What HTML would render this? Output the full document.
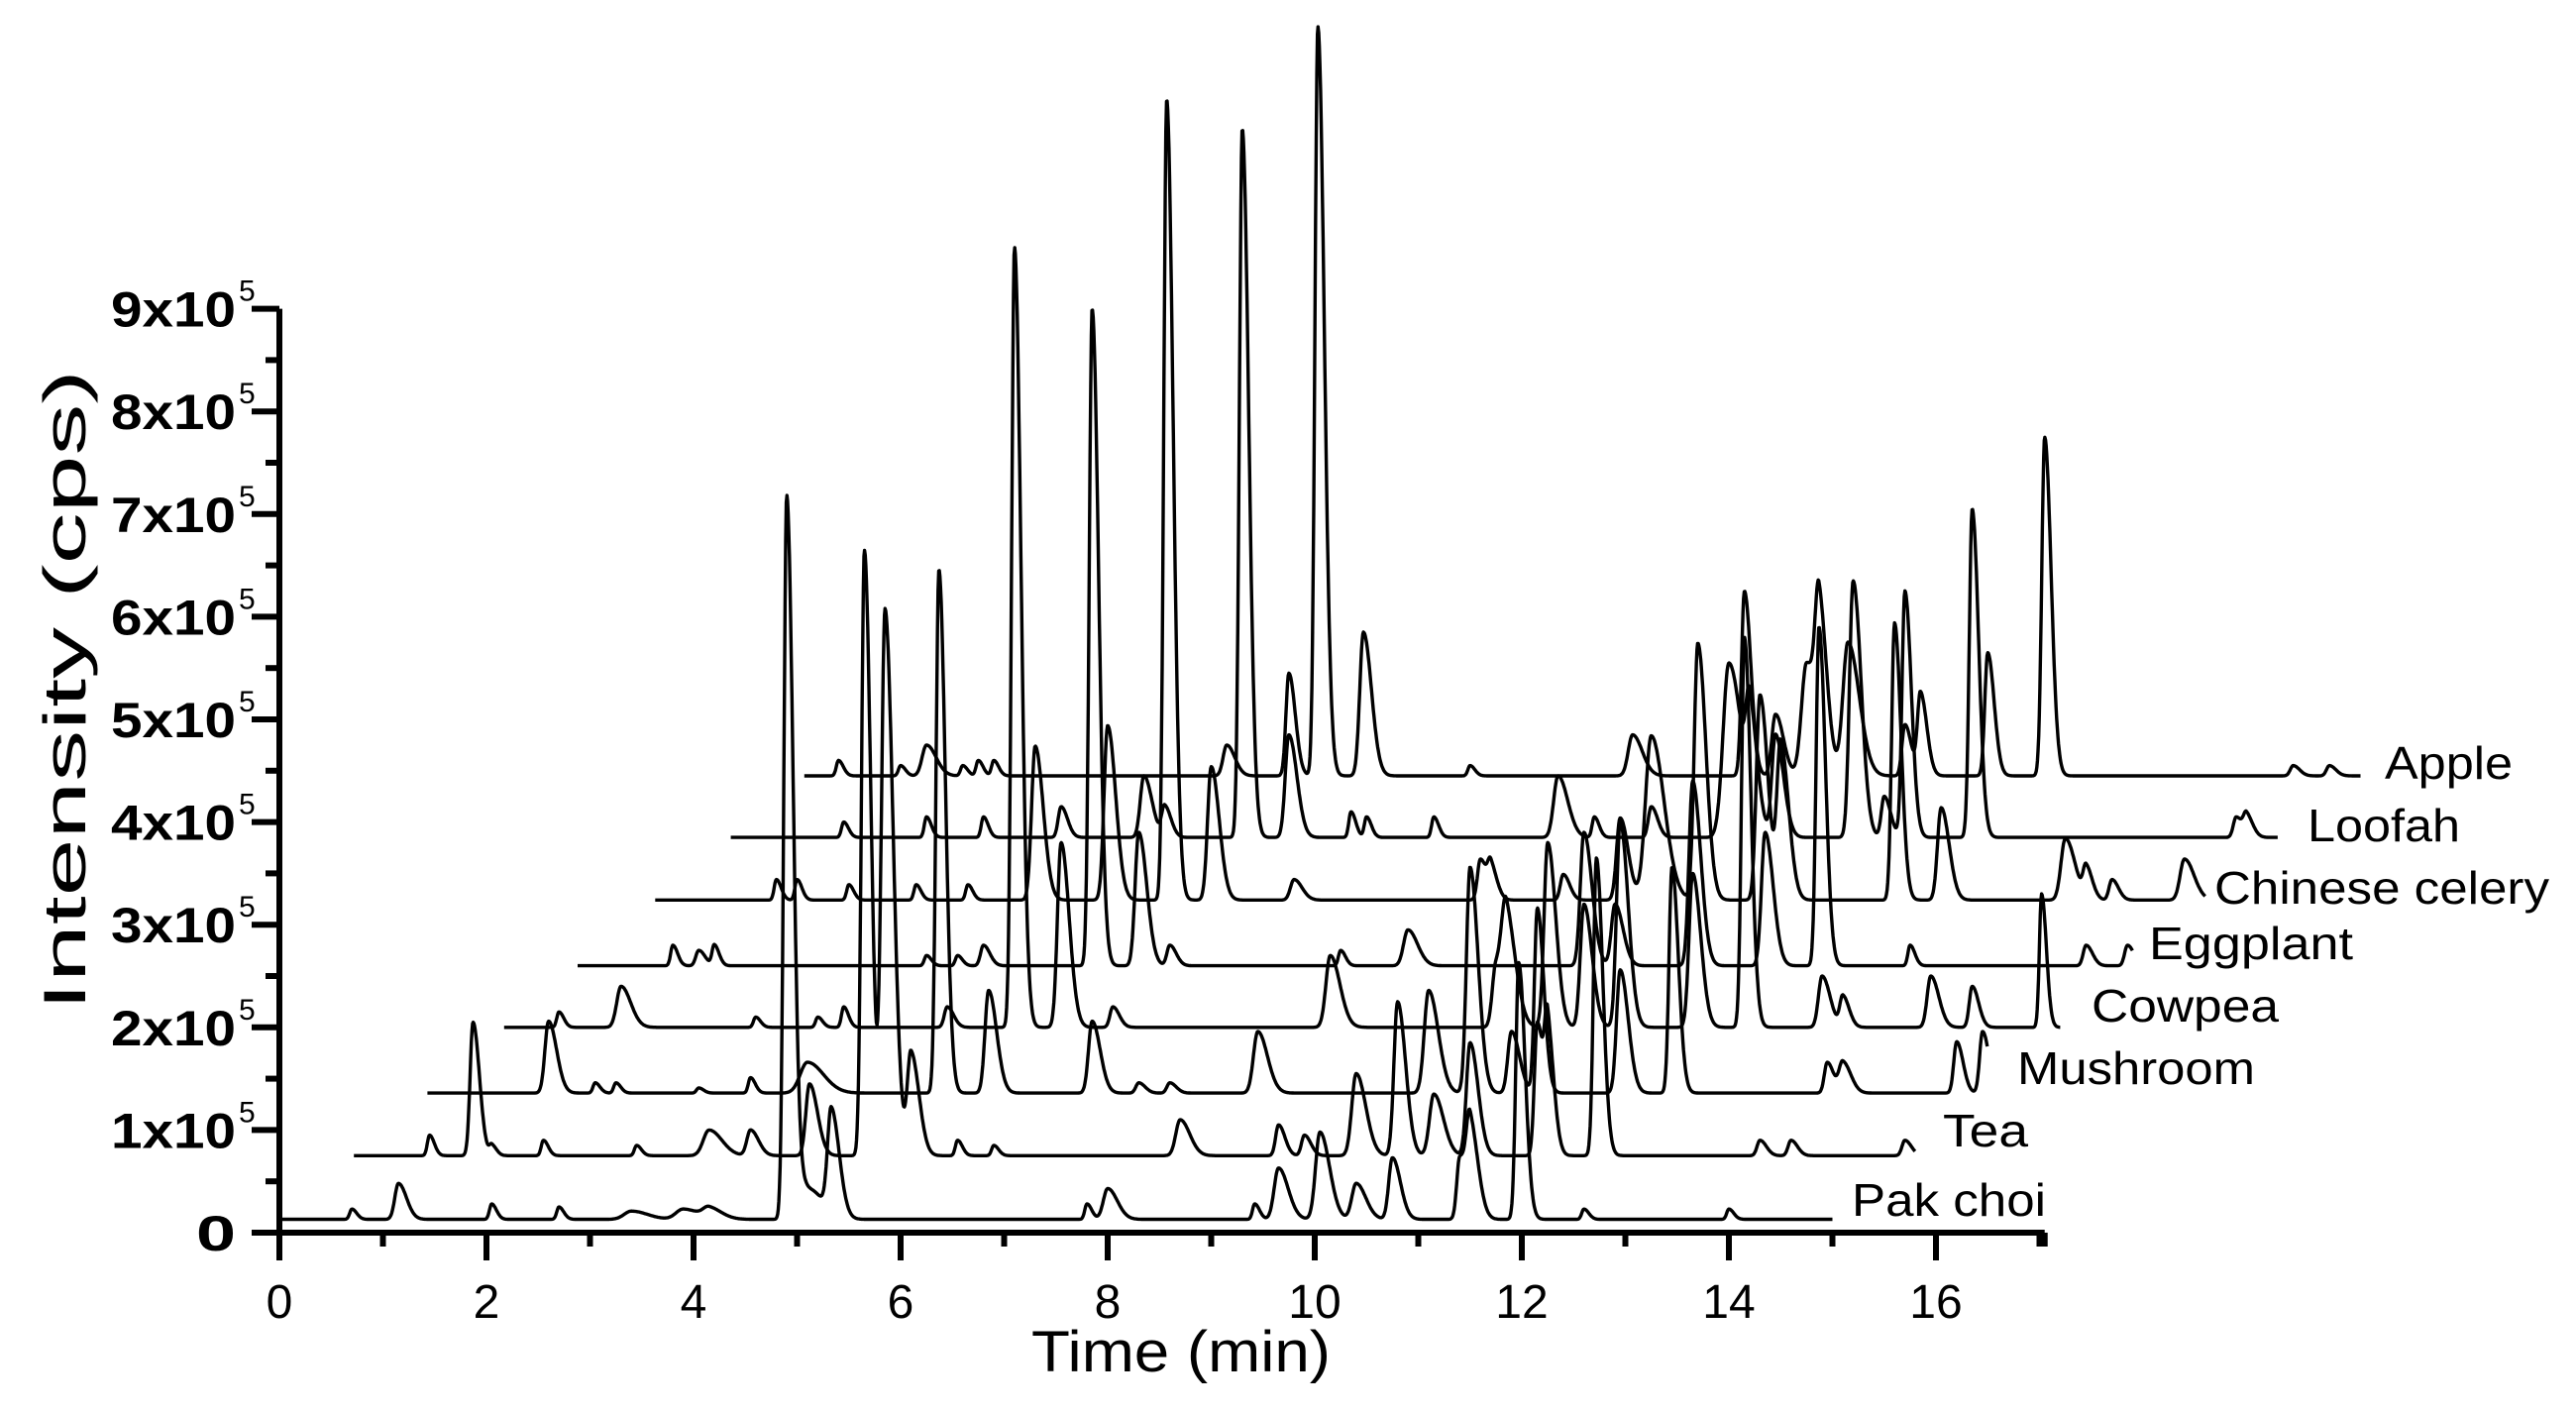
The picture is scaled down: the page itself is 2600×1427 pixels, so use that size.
<!DOCTYPE html>
<html><head><meta charset="utf-8"><style>
html,body{margin:0;padding:0;background:#fff;}
svg{display:block;}
text{font-family:"Liberation Sans",sans-serif;fill:#000;}
</style></head><body>
<svg id="chart" width="2600" height="1427" viewBox="0 0 2600 1427" xmlns="http://www.w3.org/2000/svg">
<g id="plot"></g>
<g id="axes"></g>
</svg>
<script>
// ---- data ----
const seriesNames = ["Pak choi","Tea","Mushroom","Cowpea","Eggplant","Chinese celery","Loofah","Apple"];
const seriesStart = [0, 0.72, 1.43, 2.17, 2.88, 3.63, 4.36, 5.07];
const seriesEnd = [15.0, 15.8, 16.5, 17.2, 17.9, 18.6, 19.3, 20.1];
const seriesBase = [0.13, 0.75, 1.36, 2.0, 2.6, 3.24, 3.85, 4.45];
// peaks: [time(min), height above baseline (x1e5), width(min)]
const peaksPakChoi = [[0.7,0.1,0.03],[1.15,0.35,0.05],[2.05,0.15,0.03],[2.7,0.12,0.03],[3.4,0.08,0.1],[3.9,0.1,0.1],[4.15,0.1,0.08],[5.1,0.3,0.1],[4.9,7.05,0.04],[5.33,1.0,0.05],[7.8,0.15,0.03],[8.0,0.3,0.06],[9.42,0.15,0.03],[9.65,0.5,0.06],[10.05,0.85,0.06],[10.4,0.35,0.06],[10.75,0.6,0.05],[11.4,0.6,0.04],[11.5,0.9,0.05],[11.97,2.5,0.04],[12.6,0.1,0.03],[14.0,0.1,0.03]];
const peaksTea = [[1.45,0.2,0.03],[1.87,1.3,0.04],[2.05,0.1,0.03],[2.55,0.15,0.03],[3.45,0.1,0.03],[4.15,0.25,0.08],[4.55,0.25,0.05],[5.12,0.7,0.05],[5.65,5.9,0.04],[5.85,5.3,0.05],[6.1,1.0,0.05],[6.55,0.15,0.03],[6.9,0.1,0.03],[8.7,0.35,0.06],[9.65,0.3,0.04],[9.9,0.2,0.04],[10.4,0.8,0.06],[10.8,1.5,0.05],[11.15,0.6,0.06],[11.5,1.1,0.05],[12.15,1.3,0.04],[12.25,1.1,0.04],[12.72,2.9,0.04],[14.3,0.15,0.04],[14.6,0.15,0.04],[15.7,0.15,0.04]];
const peaksMushroom = [[2.6,0.7,0.05],[3.05,0.1,0.03],[3.25,0.1,0.03],[4.05,0.05,0.03],[4.55,0.15,0.03],[5.1,0.3,0.1],[6.37,5.1,0.04],[6.85,1.0,0.05],[7.85,0.7,0.05],[8.3,0.1,0.04],[8.6,0.1,0.04],[9.45,0.6,0.06],[11.1,1.0,0.06],[11.5,2.2,0.05],[11.9,0.6,0.05],[12.15,1.8,0.04],[12.95,1.2,0.05],[13.45,2.2,0.04],[14.95,0.3,0.04],[15.1,0.3,0.05],[16.2,0.5,0.04],[16.45,0.6,0.04]];
const peaksCowpea = [[2.7,0.15,0.03],[3.3,0.4,0.06],[4.6,0.1,0.03],[5.2,0.1,0.03],[5.45,0.2,0.03],[6.45,0.2,0.04],[7.1,7.6,0.04],[7.55,1.8,0.05],[8.05,0.2,0.04],[10.15,0.7,0.06],[11.75,0.6,0.05],[11.85,1.0,0.06],[12.25,1.8,0.05],[12.6,1.2,0.05],[12.95,2.0,0.05],[13.65,1.5,0.05],[14.15,3.8,0.04],[14.9,0.5,0.05],[15.1,0.3,0.04],[15.95,0.5,0.05],[16.35,0.4,0.04],[17.02,1.3,0.03]];
const peaksEggplant = [[3.8,0.2,0.03],[4.05,0.15,0.04],[4.2,0.2,0.03],[6.25,0.1,0.03],[6.55,0.1,0.03],[6.8,0.2,0.04],[7.85,6.4,0.04],[8.3,1.3,0.05],[8.6,0.2,0.04],[10.25,0.15,0.03],[10.9,0.35,0.06],[12.6,1.3,0.05],[12.9,0.6,0.05],[13.65,1.8,0.05],[14.35,1.3,0.05],[14.87,3.3,0.04],[15.75,0.2,0.03],[17.45,0.2,0.04],[17.85,0.2,0.04]];
const peaksCelery = [[4.8,0.2,0.03],[5.0,0.2,0.03],[5.5,0.15,0.03],[6.15,0.15,0.03],[6.65,0.15,0.03],[7.3,1.5,0.05],[8.0,1.7,0.05],[8.57,7.8,0.04],[9.0,1.3,0.05],[9.8,0.2,0.05],[11.6,0.4,0.04],[11.7,0.3,0.04],[12.4,0.25,0.04],[12.95,0.8,0.05],[13.25,1.6,0.08],[13.7,2.5,0.05],[14.3,2.0,0.05],[14.5,1.5,0.05],[15.6,2.7,0.04],[16.05,0.9,0.05],[17.25,0.6,0.06],[17.45,0.3,0.04],[17.7,0.2,0.04],[18.4,0.4,0.06]];
const peaksLoofah = [[5.45,0.15,0.03],[6.25,0.2,0.03],[6.8,0.2,0.03],[7.55,0.3,0.04],[8.35,0.6,0.05],[8.55,0.3,0.04],[9.3,6.9,0.04],[9.75,1.0,0.05],[10.35,0.25,0.03],[10.5,0.2,0.03],[11.15,0.2,0.03],[12.35,0.6,0.06],[12.7,0.2,0.03],[13.25,0.3,0.04],[14.0,1.7,0.08],[14.2,1.0,0.05],[14.45,1.0,0.05],[15.2,2.5,0.05],[15.5,0.4,0.04],[15.7,2.4,0.04],[16.35,3.2,0.04],[18.9,0.2,0.04],[19.0,0.2,0.04]];
const peaksApple = [[5.4,0.15,0.03],[6.0,0.1,0.03],[6.25,0.3,0.06],[6.6,0.1,0.03],[6.75,0.15,0.03],[6.9,0.15,0.03],[9.15,0.3,0.05],[9.75,1.0,0.04],[10.03,7.3,0.04],[10.47,1.4,0.05],[11.5,0.1,0.03],[13.07,0.4,0.06],[14.15,1.8,0.04],[14.45,0.6,0.05],[14.75,1.1,0.07],[14.87,1.3,0.05],[15.15,1.3,0.07],[15.7,0.5,0.04],[15.85,0.8,0.04],[16.5,1.2,0.04],[17.05,3.3,0.04],[19.45,0.1,0.04],[19.8,0.1,0.04]];
const seriesPeaks = [peaksPakChoi,peaksTea,peaksMushroom,peaksCowpea,peaksEggplant,peaksCelery,peaksLoofah,peaksApple];
const xTickLabels = ["0","2","4","6","8","10","12","14","16"];
const yTickLabels = ["0","1","2","3","4","5","6","7","8","9"];

// ---- layout ----
const X0 = 282, XS = 104.5, Y0 = 1244, YS = 103.6;
const xAxisEnd = 17.05;
const xPos = t => X0 + t * XS;
const yPos = v => Y0 - v * YS;
const NS = "http://www.w3.org/2000/svg";
function mk(tag, attrs, parent){ const e=document.createElementNS(NS,tag); for(const k in attrs) e.setAttribute(k,attrs[k]); parent.appendChild(e); return e; }

const plot = document.getElementById('plot');
const axes = document.getElementById('axes');
const labelPos = [[1869,1227,196],[1961,1157,86],[2036,1094,240],[2111,1031,189],[2169,968,206],[2235,912,338],[2329,849,154],[2407,786,129]];

seriesNames.forEach((name,i)=>{
  const pk = seriesPeaks[i];
  let d = "";
  const step = 0.006;
  for(let t=seriesStart[i]; t<=seriesEnd[i]+1e-9; t+=step){
    let v = seriesBase[i];
    for(const p of pk){
      const dt = t - p[0];
      const sw = p[2]*0.7;
      const w = dt < 0 ? sw : sw*2.2;
      v += p[1]*Math.exp(-0.5*(dt/w)*(dt/w));
    }
    d += (d ? "L" : "M") + xPos(t).toFixed(1) + "," + yPos(v).toFixed(1);
  }
  const path = mk('path',{d:d,fill:'none',stroke:'#000','stroke-width':3.4,'stroke-linejoin':'round'},plot);
  
  
  const lp = labelPos[i];
  const tx = mk('text',{x:lp[0],y:lp[1],'font-size':46,textLength:lp[2],lengthAdjust:'spacingAndGlyphs'},plot);
  tx.textContent = name;
  
  
});

// axes lines
const yl = mk('line',{x1:X0,y1:yPos(9),x2:X0,y2:Y0+16,stroke:'#000','stroke-width':6},axes);


const xl = mk('line',{x1:X0-28,y1:Y0,x2:xPos(xAxisEnd),y2:Y0,stroke:'#000','stroke-width':6},axes);



// y ticks
for(let k=0;k<=18;k++){
  const v=k/2, y=yPos(v), len = k%2===0 ? 28 : 14;
  const tl = mk('line',{x1:X0-len,y1:y,x2:X0,y2:y,stroke:'#000','stroke-width':6},axes);
  
  
}
yTickLabels.forEach((lab,k)=>{
  const y=yPos(k);
  const t = mk('text',{x:238,y:y+18,'font-size':50,'text-anchor':'end','font-weight':'bold',textLength: k===0?40:126,lengthAdjust:'spacingAndGlyphs'},axes);
  
  
  if(k===0){ t.textContent="0"; }
  else {
    t.textContent = lab + "x10";
    const s = mk('text',{x:241,y:y-8,'font-size':30},axes);
    s.textContent="5";
    
    
  }
});
// x ticks
for(let m=0;m<=17;m++){
  const x=xPos(m), len = m%2===0 ? 28 : 14;
  const tl = mk('line',{x1:x,y1:Y0,x2:x,y2:Y0+len,stroke:'#000','stroke-width':6},axes);
  
  
}
const endTick = mk('line',{x1:xPos(xAxisEnd),y1:Y0,x2:xPos(xAxisEnd),y2:Y0+14,stroke:'#000','stroke-width':6},axes);


xTickLabels.forEach((lab,k)=>{
  const t = mk('text',{x:xPos(k*2),y:1330,'font-size':48,'text-anchor':'middle'},axes);
  t.textContent = lab;
  
  
});
// titles
const xt = mk('text',{x:1041,y:1384,'font-size':58,textLength:302,lengthAdjust:'spacingAndGlyphs'},axes);
xt.textContent="Time (min)";


const ytt = mk('text',{x:0,y:0,'font-size':60,textLength:647,lengthAdjust:'spacingAndGlyphs','transform':'translate(86,1020) rotate(-90)'},axes);
ytt.textContent="Intensity (cps)";


</script>
</body></html>
